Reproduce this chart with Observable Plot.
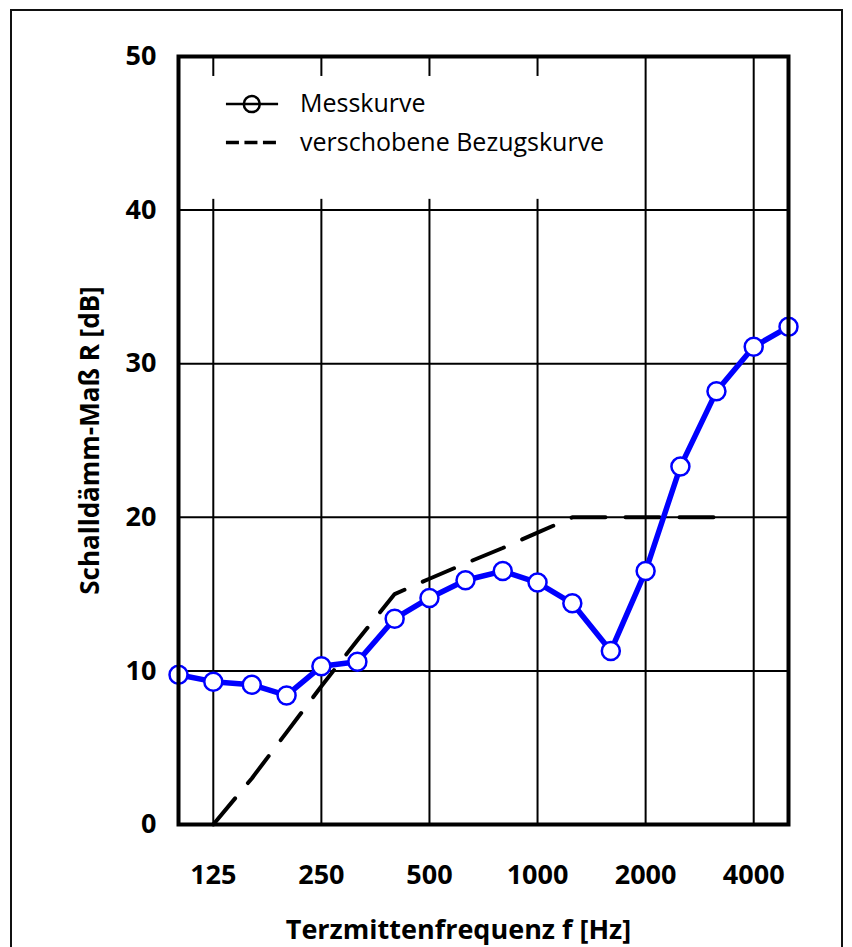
<!DOCTYPE html>
<html>
<head>
<meta charset="utf-8">
<script src="https://cdn.jsdelivr.net/npm/d3@7"></script>
<script src="https://cdn.jsdelivr.net/npm/@observablehq/plot@0.6"></script>
<style>
  html, body { margin: 0; padding: 0; background: #fff; }
  #wrap { position: relative; width: 852px; height: 947px; overflow: hidden; }
  #border { position: absolute; left: 10px; top: 9px; width: 833px; height: 960px; border: 2px solid #111; box-sizing: border-box; }
  #chart { position: absolute; left: 0; top: 0; }
</style>
</head>
<body>
<div id="wrap"><div id="border"></div><div id="chart"></div></div>
<script>
// Third-octave band centre frequencies [Hz]
const freqs = [100, 125, 160, 200, 250, 315, 400, 500, 630, 800, 1000, 1250, 1600, 2000, 2500, 3150, 4000, 5000];
// Measured sound reduction index R [dB]
const measured = [9.75, 9.3, 9.1, 8.4, 10.3, 10.6, 13.4, 14.75, 15.9, 16.5, 15.75, 14.4, 11.3, 16.5, 23.3, 28.2, 31.1, 32.4];
// Shifted reference curve
const refFreqs = [125, 160, 200, 250, 315, 400, 500, 630, 800, 1000, 1250, 1600, 2000, 2500, 3150];
const refValues = [0, 3, 6, 9, 12, 15, 16, 17, 18, 19, 20, 20, 20, 20, 20];
// Axis ticks
const xTicks = [125, 250, 500, 1000, 2000, 4000];
const yTicks = [0, 10, 20, 30, 40, 50];
const yGrid = [10, 20, 30, 40];
// Legend
const legendLabels = ["Messkurve", "verschobene Bezugskurve"];
const legendRows = [46.9, 44.4];     // dB rows of legend entries
const legendBox = {x1: 100, x2: 1350, y1: 40.7, y2: 48.7};
const legendSym = {x1: 136, x2: 190, xc: 160, xt: 218};

const measData = freqs.map((f, i) => ({f, r: measured[i]}));
const refData = refFreqs.map((f, i) => ({f, r: refValues[i]}));

const font = "'Open Sans', 'DejaVu Sans', sans-serif";

const plot = Plot.plot({
  width: 852,
  height: 947,
  marginLeft: 178,
  marginRight: 64,
  marginTop: 56,
  marginBottom: 123,
  style: {fontFamily: font, background: "transparent", color: "#000"},
  x: {type: "log", domain: [100, 5000]},
  y: {domain: [0, 50]},
  marks: [
    Plot.gridY(yGrid, {stroke: "#000", strokeOpacity: 1, strokeWidth: 2}),
    Plot.gridX(xTicks, {stroke: "#000", strokeOpacity: 1, strokeWidth: 2}),
    Plot.rect([legendBox], {x1: "x1", x2: "x2", y1: "y1", y2: "y2", fill: "#fff"}),
    // legend symbols
    Plot.ruleY([legendRows[0]], {x1: legendSym.x1, x2: legendSym.x2, stroke: "#000", strokeWidth: 2.5}),
    Plot.dot([legendRows[0]], {x: legendSym.xc, y: d => d, r: 8, fill: "none", stroke: "#000", strokeWidth: 2.5}),
    Plot.ruleY([legendRows[1]], {x1: legendSym.x1, x2: legendSym.x2, stroke: "#000", strokeWidth: 3.5, strokeDasharray: "13,5.5"}),
    Plot.text(legendLabels, {x: legendSym.xt, y: (d, i) => legendRows[i], text: d => d, textAnchor: "start", fontSize: 25, fill: "#000"}),
    // reference curve
    Plot.line(refData, {x: "f", y: "r", stroke: "#000", strokeWidth: 4, strokeDasharray: "34,20", strokeLinejoin: "miter"}),
    // measured curve
    Plot.line(measData, {x: "f", y: "r", stroke: "#0000ff", strokeWidth: 5.5}),
    Plot.dot(measData, {x: "f", y: "r", r: 9, fill: "#fff", stroke: "#0000ff", strokeWidth: 2.5}),
    Plot.frame({stroke: "#000", strokeWidth: 4}),
    Plot.axisX(xTicks, {tickSize: 0, tickPadding: 40, tickFormat: d => String(d), fontSize: 27, fontWeight: "bold", label: null}),
    Plot.axisY(yTicks, {tickSize: 0, tickPadding: 22, fontSize: 27, fontWeight: "bold", label: null}),
    Plot.text(["Terzmittenfrequenz f [Hz]"], {frameAnchor: "bottom", dx: -25, dy: 114, fontSize: 27, fontWeight: "bold", fill: "#000"}),
    Plot.text(["Schalldämm-Maß R [dB]"], {frameAnchor: "left", textAnchor: "middle", dx: -88, rotate: -90, fontSize: 26, fontWeight: "bold", fill: "#000"})
  ]
});
document.getElementById("chart").appendChild(plot);
</script>
</body>
</html>
